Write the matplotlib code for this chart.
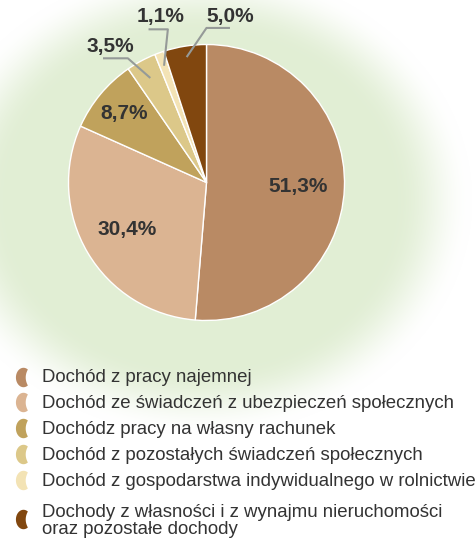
import numpy as np
import matplotlib
matplotlib.use("Agg")
import matplotlib.pyplot as plt
from matplotlib.path import Path

plt.rcParams['font.family'] = ['Liberation Sans', 'DejaVu Sans']

# ---- data ----
categories = [
    "Dochód z pracy najemnej",
    "Dochód ze świadczeń z ubezpieczeń społecznych",
    "Dochódz pracy na własny rachunek",
    "Dochód z pozostałych świadczeń społecznych",
    "Dochód z gospodarstwa indywidualnego w rolnictwie",
    "Dochody z własności i z wynajmu nieruchomości\noraz pozostałe dochody",
]
values = [51.3, 30.4, 8.7, 3.5, 1.1, 5.0]
value_labels = ["51,3%", "30,4%", "8,7%", "3,5%", "1,1%", "5,0%"]
colors = ["#B98A64", "#DBB492", "#C0A25C", "#DCC889", "#F3E3B5", "#81470F"]

W, H = 477, 544
fig = plt.figure(figsize=(W / 100, H / 100), dpi=100)

# ---- background radial glow ----
bg = fig.add_axes([0, 0, 1, 1])
bg.set_axis_off()
yy, xx = np.mgrid[0:H, 0:W]
cx, cy, rx, ry = 200, 200, 272, 235
d = np.hypot((xx - cx) / rx, (yy - cy) / ry)
f = np.clip((1.0 - d) / 0.28, 0, 1)
f = f * f * (3 - 2 * f)
green = np.array([0.885, 0.935, 0.835])
white = np.array([1.0, 1.0, 1.0])
img = white[None, None, :] * (1 - f[..., None]) + green[None, None, :] * f[..., None]
bg.imshow(img, extent=[0, W, H, 0], aspect='auto', interpolation='bilinear')
bg.set_xlim(0, W)
bg.set_ylim(H, 0)

# ---- pie ----
pcx, pcy, R = 206.5, 182.5, 138
ax = fig.add_axes([(pcx - R) / W, (H - pcy - R) / H, 2 * R / W, 2 * R / H])
wedges, _ = ax.pie(values, colors=colors, startangle=90, counterclock=False,
                   wedgeprops=dict(edgecolor="white", linewidth=1.0))
ax.set_xlim(-1, 1)
ax.set_ylim(-1, 1)
ax.set_aspect('equal')

def mid_dir(w):
    a = np.deg2rad((w.theta1 + w.theta2) / 2)
    return np.cos(a), np.sin(a)

label_kw = dict(fontsize=15, fontweight='bold', color='#333333', ha='center', va='center')
inner_r = [0.665, 0.665, 0.78]
for i in range(3):
    dx, dy = mid_dir(wedges[i])
    ax.text(dx * inner_r[i], dy * inner_r[i], value_labels[i], **label_kw)

outside = {
    3: dict(ar=0.86, elbow=(-0.57, 0.90), end=(-0.75, 0.90), txt=(-0.70, 0.985)),
    4: dict(ar=0.90, elbow=(-0.28, 1.11), end=(-0.42, 1.11), txt=(-0.33, 1.205)),
    5: dict(ar=0.92, elbow=(0.00, 1.12), end=(0.17, 1.12), txt=(0.17, 1.205)),
}
for i, o in outside.items():
    dx, dy = mid_dir(wedges[i])
    p0 = (dx * o['ar'], dy * o['ar'])
    ax.plot([p0[0], o['elbow'][0], o['end'][0]], [p0[1], o['elbow'][1], o['end'][1]],
            color='#959A98', lw=1.5, clip_on=False, solid_capstyle='butt')
    ax.text(o['txt'][0], o['txt'][1], value_labels[i], **label_kw)

# ---- legend markers: crescent "(" ----
a = np.deg2rad(np.linspace(55, 305, 50))
outer = np.column_stack([0.78 * np.cos(a), np.sin(a)])
tip_x, tip_y = outer[-1]
yy2 = np.linspace(tip_y, -tip_y, 30)
inner = np.column_stack([tip_x - 0.22 * (1 - (yy2 / tip_y) ** 2), yy2])
verts = np.vstack([outer, inner, outer[:1]])
codes = [Path.MOVETO] + [Path.LINETO] * (len(verts) - 2) + [Path.CLOSEPOLY]
crescent = Path(verts, codes)

leg = fig.add_axes([0, 0, 1, 1], facecolor='none')
leg.set_axis_off()
leg.set_xlim(0, W)
leg.set_ylim(H, 0)
marker_y = [377, 402, 428, 454, 480, 519]
text_y = [377, 403, 429, 455, 481, 521]
marker_x = 23
text_x = 42
for i, (cat, c) in enumerate(zip(categories, colors)):
    leg.plot([marker_x], [marker_y[i]], marker=crescent, markersize=14, color=c,
             markeredgecolor='none', linestyle='none')
    leg.text(text_x, text_y[i], cat, fontsize=13.4, color='#333333', va='center', ha='left',
             linespacing=0.98)

fig.savefig("out.png", dpi=100)
